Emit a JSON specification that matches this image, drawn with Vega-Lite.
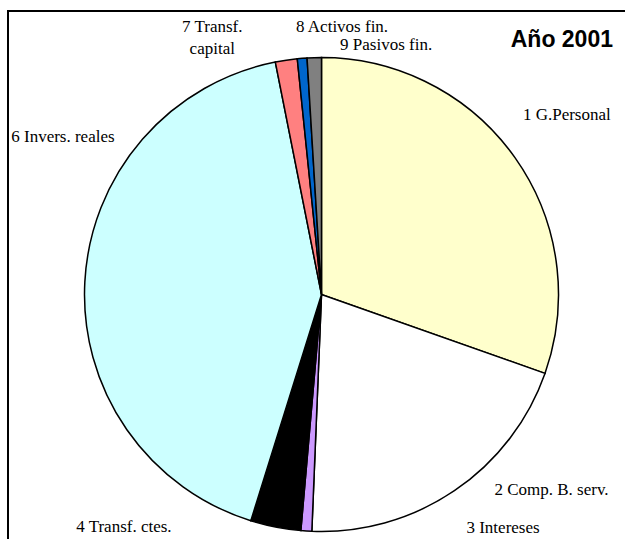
{
  "$schema": "https://vega.github.io/schema/vega-lite/v6.json",
  "autosize": {"type": "none"},
  "padding": {"left": 8, "top": 11, "right": 0, "bottom": 0},
  "width": 627,
  "height": 567,
  "background": "white",
  "view": {"stroke": "black", "strokeWidth": 2, "fill": "white"},
  "title": {"text": "Año 2001", "anchor": "end", "orient": "top", "baseline": "middle", "offset": -81, "dx": -22, "font": "Liberation Sans", "fontWeight": "bold", "fontSize": 23, "color": "black"},
  "data": {"values": [
    {"n": 1, "label": "1 G.Personal", "v": 30.4},
    {"n": 2, "label": "2 Comp. B. serv.", "v": 20.25},
    {"n": 3, "label": "3 Intereses", "v": 0.74},
    {"n": 4, "label": "4 Transf. ctes.", "v": 3.43},
    {"n": 6, "label": "6 Invers. reales", "v": 42.06},
    {"n": 7, "label": "7 Transf.\ncapital", "v": 1.49},
    {"n": 8, "label": "8 Activos fin.", "v": 0.66},
    {"n": 9, "label": "9 Pasivos fin.", "v": 0.97}
  ]},
  "encoding": {
    "theta": {"field": "v", "type": "quantitative", "stack": true},
    "order": {"field": "n", "type": "quantitative"},
    "detail": {"field": "n", "type": "nominal"}
  },
  "layer": [
    {
      "mark": {"type": "arc", "radius": 237, "stroke": "black", "strokeWidth": 1.5},
      "encoding": {
        "color": {"field": "n", "type": "nominal", "legend": null,
          "scale": {"domain": [1, 2, 3, 4, 6, 7, 8, 9], "range": ["#FFFFCC", "#FFFFFF", "#CC99FF", "#000000", "#CCFFFF", "#FF8080", "#0066CC", "#808080"]}}
      }
    },
    {
      "mark": {"type": "text", "radius": 304, "thetaOffset": -0.016, "font": "Liberation Serif", "fontSize": 17, "color": "black", "align": "center", "baseline": "middle"},
      "encoding": {"text": {"condition": {"test": "datum.n === 1", "field": "label"}, "value": ""}}
    },
    {
      "mark": {"type": "text", "radius": 302, "thetaOffset": -0.2705, "font": "Liberation Serif", "fontSize": 17, "color": "black", "align": "center", "baseline": "middle"},
      "encoding": {"text": {"condition": {"test": "datum.n === 2", "field": "label"}, "value": ""}}
    },
    {
      "mark": {"type": "text", "radius": 296, "thetaOffset": -0.7243, "font": "Liberation Serif", "fontSize": 17, "color": "black", "align": "center", "baseline": "middle"},
      "encoding": {"text": {"condition": {"test": "datum.n === 3", "field": "label"}, "value": ""}}
    },
    {
      "mark": {"type": "text", "radius": 305, "thetaOffset": 0.5096, "font": "Liberation Serif", "fontSize": 17, "color": "black", "align": "center", "baseline": "middle"},
      "encoding": {"text": {"condition": {"test": "datum.n === 4", "field": "label"}, "value": ""}}
    },
    {
      "mark": {"type": "text", "radius": 303, "thetaOffset": 0.4948, "font": "Liberation Serif", "fontSize": 17, "color": "black", "align": "center", "baseline": "middle"},
      "encoding": {"text": {"condition": {"test": "datum.n === 6", "field": "label"}, "value": ""}}
    },
    {
      "mark": {"type": "text", "radius": 289, "thetaOffset": -0.2384, "font": "Liberation Serif", "fontSize": 17, "color": "black", "align": "center", "baseline": "middle", "lineBreak": "\n", "lineHeight": 22},
      "encoding": {"text": {"condition": {"test": "datum.n === 7", "field": "label"}, "value": ""}}
    },
    {
      "mark": {"type": "text", "radius": 268, "thetaOffset": 0.1585, "font": "Liberation Serif", "fontSize": 17, "color": "black", "align": "center", "baseline": "middle"},
      "encoding": {"text": {"condition": {"test": "datum.n === 8", "field": "label"}, "value": ""}}
    },
    {
      "mark": {"type": "text", "radius": 258, "thetaOffset": 0.2836, "font": "Liberation Serif", "fontSize": 17, "color": "black", "align": "center", "baseline": "middle"},
      "encoding": {"text": {"condition": {"test": "datum.n === 9", "field": "label"}, "value": ""}}
    }
  ]
}
